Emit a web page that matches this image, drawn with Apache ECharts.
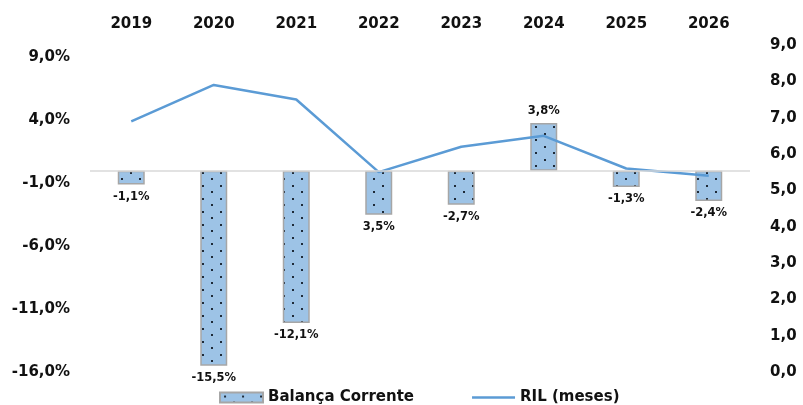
<!DOCTYPE html>
<html>
<head>
<meta charset="utf-8">
<script src="https://cdn.jsdelivr.net/npm/echarts@6/dist/echarts.min.js"></script>
<style>
html,body{margin:0;padding:0;background:#fff;}
#chart{width:803px;height:405px;}
</style>
</head>
<body>
<div id="chart"></div>
<script>
var categories = ['2019','2020','2021','2022','2023','2024','2025','2026'];
var balancaCorrente = [-1.1, -15.5, -12.1, -3.5, -2.7, 3.8, -1.3, -2.4];
var balancaLabels = ['-1,1%','-15,5%','-12,1%','3,5%','-2,7%','3,8%','-1,3%','-2,4%'];
var rilMeses = [6.9, 7.9, 7.5, 5.5, 6.2, 6.5, 5.6, 5.4];
var leftTicks = [-16, -11, -6, -1, 4, 9];
var rightTicks = [0, 1, 2, 3, 4, 5, 6, 7, 8, 9];

var FONT = '"DejaVu Sans", Verdana, sans-serif';
var TEXT = '#111111';

function makePattern() {
  var c = document.createElement('canvas');
  c.width = 18; c.height = 13;
  var g = c.getContext('2d');
  g.fillStyle = '#9dc3e6';
  g.fillRect(0, 0, 18, 13);
  g.fillStyle = '#1e2a38';
  g.fillRect(4, 3, 2, 2);
  g.fillRect(13, 9, 2, 2);
  return c;
}
var pattern = { image: makePattern(), repeat: 'repeat' };

var chart = echarts.init(document.getElementById('chart'), null, { renderer: 'canvas' });

var barData = balancaCorrente.map(function (v, i) {
  return {
    value: v,
    label: {
      position: v < 0 ? 'bottom' : 'top',
      formatter: balancaLabels[i]
    }
  };
});

var option = {
  animation: false,
  backgroundColor: '#ffffff',
  textStyle: { fontFamily: FONT },
  grid: { left: 90, right: 53, top: 45, bottom: 33, containLabel: false },
  legend: {
    left: 219,
    top: 390,
    padding: 0,
    itemWidth: 43,
    itemHeight: 10,
    itemGap: 58,
    textStyle: { fontFamily: FONT, fontWeight: 'bold', fontSize: 15, color: TEXT },
    data: [
      { name: 'Balança Corrente', icon: 'rect' },
      { name: 'RIL (meses)', icon: 'path://M0,0 L43,0 L43,2.5 L0,2.5 Z', itemStyle: { color: '#5b9bd5' } }
    ]
  },
  xAxis: [{
    type: 'category',
    data: categories,
    position: 'top',
    axisLine: { show: false },
    axisTick: { show: false },
    axisLabel: { margin: 13, fontFamily: FONT, fontWeight: 'bold', fontSize: 15, color: TEXT },
    splitLine: { show: false }
  }],
  yAxis: [{
    type: 'value',
    position: 'left',
    min: -16,
    max: 10,
    axisLine: { show: false },
    axisTick: { show: false },
    splitLine: { show: false },
    axisLabel: {
      customValues: leftTicks,
      margin: 20,
      fontFamily: FONT, fontWeight: 'bold', fontSize: 15, color: TEXT,
      formatter: function (v) { return v.toFixed(1).replace('.', ',') + '%'; }
    }
  }, {
    type: 'value',
    position: 'right',
    min: 0,
    max: 9,
    interval: 1,
    axisLine: { show: false },
    axisTick: { show: false },
    splitLine: { show: false },
    axisLabel: {
      customValues: rightTicks,
      margin: 20,
      fontFamily: FONT, fontWeight: 'bold', fontSize: 15, color: TEXT,
      formatter: function (v) { return v.toFixed(1).replace('.', ','); }
    }
  }],
  series: [{
    name: 'Balança Corrente',
    type: 'bar',
    xAxisIndex: 0,
    yAxisIndex: 0,
    barWidth: 27,
    data: barData,
    itemStyle: { color: pattern, borderColor: '#a6a6a6', borderWidth: 1.5 },
    label: {
      show: true,
      distance: 6,
      fontFamily: FONT, fontWeight: 'bold', fontSize: 11.5, color: TEXT
    },
    markLine: {
      silent: true,
      symbol: 'none',
      label: { show: false },
      lineStyle: { color: '#d9d9d9', width: 1.5, type: 'solid' },
      data: [{ yAxis: 0 }]
    },
    z: 2
  }, {
    name: 'RIL (meses)',
    type: 'line',
    xAxisIndex: 0,
    yAxisIndex: 1,
    data: rilMeses,
    symbol: 'none',
    lineStyle: { color: '#5b9bd5', width: 2.5 },
    itemStyle: { color: '#5b9bd5' },
    z: 3
  }]
};
chart.setOption(option);
</script>
</body>
</html>
